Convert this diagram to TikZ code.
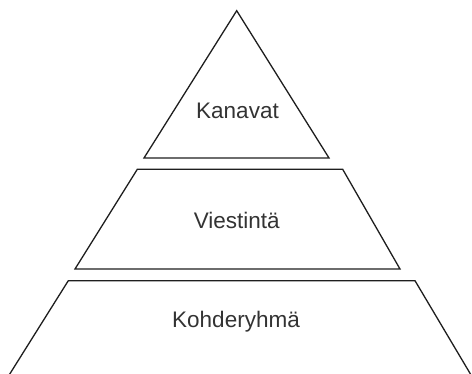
\documentclass[tikz,border=0pt]{standalone}
\usepackage{fontspec}
\setmainfont{Liberation Sans}
\definecolor{edge}{HTML}{1E1E1E}
\definecolor{txt}{HTML}{333333}
\tikzset{
  layer/.style={draw=edge, line width=1.3pt, line join=miter, fill=white},
  label/.style={text=txt, font=\fontsize{22.5}{26}\selectfont, inner sep=0pt, anchor=center}
}
\begin{document}
\begin{tikzpicture}[x=1pt,y=-1pt]
\useasboundingbox (0,0) rectangle (472,374);
\clip (0,0) rectangle (472,374);
% top triangle
\draw[layer] (236.7,10.7) -- (329,158) -- (144,158) -- cycle;
% middle trapezoid
\draw[layer] (137.3,169.3) -- (342.7,169.3) -- (400,269) -- (75,269) -- cycle;
% bottom trapezoid (cut off by the page edge)
\draw[layer] (6,380) -- (68.3,280.7) -- (415,280.7) -- (474,380);
\node[label] (kan) at (237.5,111) {Kanavat};
\node[label] (vie) at (236.7,220) {Viestintä};
\node[label] (koh) at (236,322) {Kohderyhmä};
\end{tikzpicture}
\end{document}
